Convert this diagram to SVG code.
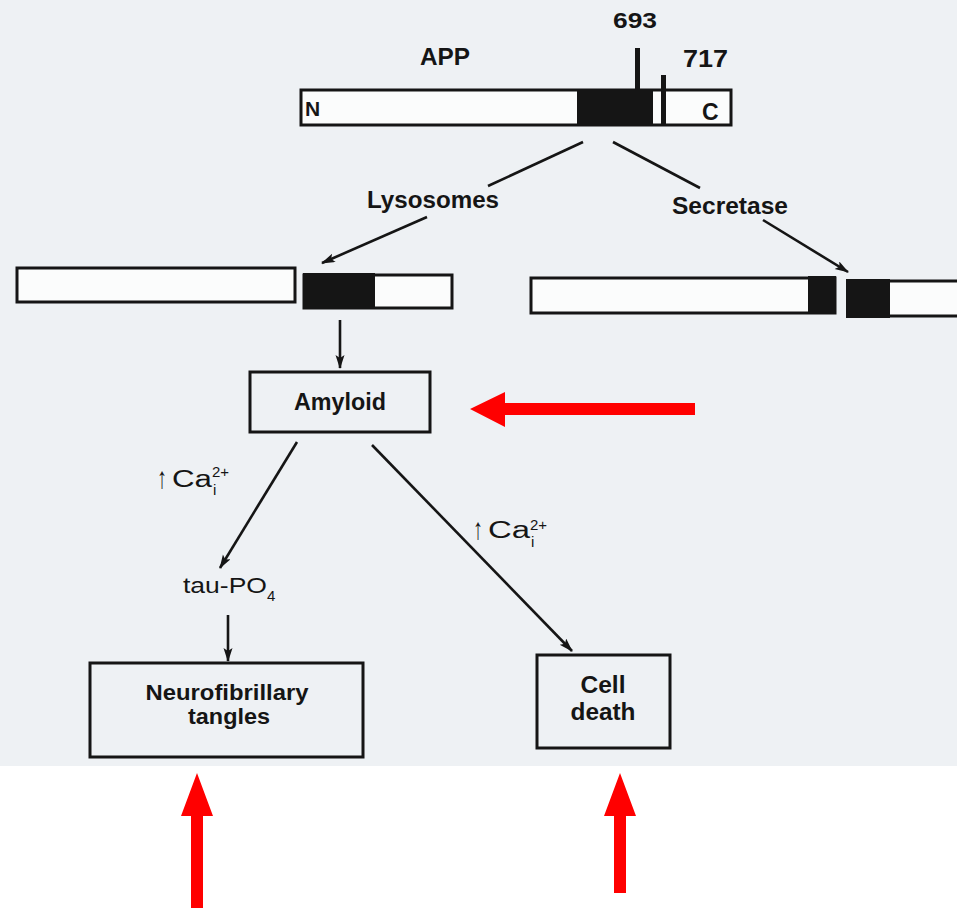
<svg xmlns="http://www.w3.org/2000/svg" width="957" height="908" viewBox="0 0 957 908">
<style>
.t{font-family:"Liberation Sans","Arial",sans-serif;fill:#151515}
.b{font-weight:bold}
.box{fill:none;stroke:#151515;stroke-width:3}
.bar{fill:#fbfcfc;stroke:#151515;stroke-width:3}
.blk{fill:#151515}
.ln{stroke:#151515;stroke-width:2.6;fill:none}
.red{fill:#ff0000}
</style>
<defs>
<marker id="ah" markerUnits="userSpaceOnUse" markerWidth="14" markerHeight="10" refX="13" refY="4.5" orient="auto">
<path d="M0,0 L14,4.5 L0,9 L3,4.5 z" fill="#151515"/>
</marker>
</defs>
<rect x="0" y="0" width="957" height="766" fill="#eef1f4"/>
<rect x="0" y="766" width="957" height="142" fill="#ffffff"/>

<g id="app">
<rect class="bar" x="301" y="90" width="430" height="35"/>
<rect class="blk" x="577" y="89" width="76" height="37"/>
<rect class="blk" x="635" y="48" width="5" height="45"/>
<rect class="blk" x="661" y="75" width="5" height="51"/>
<text class="t b" x="420" y="65" font-size="23" textLength="50" lengthAdjust="spacingAndGlyphs">APP</text>
<text class="t b" x="613" y="28" font-size="22" textLength="44" lengthAdjust="spacingAndGlyphs">693</text>
<text class="t b" x="683" y="67" font-size="23" textLength="45" lengthAdjust="spacingAndGlyphs">717</text>
<text class="t b" x="305" y="116" font-size="21">N</text>
<text class="t b" x="702" y="120" font-size="23">C</text>
</g>

<g id="lysosomes">
<text class="t b" x="367" y="208" font-size="23" textLength="132" lengthAdjust="spacingAndGlyphs">Lysosomes</text>
</g>
<g id="secretase">
<text class="t b" x="672" y="214" font-size="23" textLength="116" lengthAdjust="spacingAndGlyphs">Secretase</text>
</g>

<g id="fragment-left">
<rect class="bar" x="17" y="268" width="278" height="34"/>
<rect class="bar" x="304" y="275" width="148" height="33"/>
<rect class="blk" x="303" y="273" width="72" height="36"/>
</g>

<g id="fragment-right">
<rect class="bar" x="531" y="278" width="304" height="35"/>
<rect class="blk" x="808" y="276" width="28" height="38"/>
<rect class="bar" x="848" y="281" width="115" height="35"/>
<rect class="blk" x="846" y="279" width="44" height="39"/>
</g>

<g id="amyloid">
<rect class="box" x="250" y="372" width="180" height="60"/>
<text class="t b" x="340" y="410" font-size="23" text-anchor="middle" textLength="92" lengthAdjust="spacingAndGlyphs">Amyloid</text>
</g>

<g id="tau">
<text class="t" x="183" y="593" font-size="22"><tspan textLength="84" lengthAdjust="spacingAndGlyphs">tau-PO</tspan><tspan x="267" y="601" font-size="15">4</tspan></text>
</g>

<g id="tangles">
<rect class="box" x="90" y="663" width="273" height="94"/>
<text class="t b" font-size="22" text-anchor="middle"><tspan x="227" y="700" textLength="163" lengthAdjust="spacingAndGlyphs">Neurofibrillary</tspan><tspan x="229" y="724" textLength="82" lengthAdjust="spacingAndGlyphs">tangles</tspan></text>
</g>

<g id="celldeath">
<rect class="box" x="537" y="655" width="133" height="93"/>
<text class="t b" font-size="23" text-anchor="middle"><tspan x="603" y="693" textLength="45" lengthAdjust="spacingAndGlyphs">Cell</tspan><tspan x="603" y="720" textLength="65" lengthAdjust="spacingAndGlyphs">death</tspan></text>
</g>

<g id="ca-left">
<text class="t" x="157" y="488" font-size="23"><tspan font-size="30" textLength="10" lengthAdjust="spacingAndGlyphs">↑</tspan><tspan x="172" y="487" textLength="40" lengthAdjust="spacingAndGlyphs">Ca</tspan><tspan x="212" y="477" font-size="15">2+</tspan><tspan x="213" y="495" font-size="15">i</tspan></text>
</g>
<g id="ca-right">
<text class="t" x="473" y="539" font-size="23"><tspan font-size="30" textLength="10" lengthAdjust="spacingAndGlyphs">↑</tspan><tspan x="488" y="538" textLength="42" lengthAdjust="spacingAndGlyphs">Ca</tspan><tspan x="530" y="530" font-size="15">2+</tspan><tspan x="531" y="547" font-size="15">i</tspan></text>
</g>

<g id="connectors">
<line class="ln" x1="583" y1="142" x2="488" y2="186"/>
<line class="ln" x1="613" y1="142" x2="700" y2="188"/>
<line class="ln" x1="427" y1="217" x2="322" y2="263" marker-end="url(#ah)"/>
<line class="ln" x1="763" y1="220" x2="848" y2="272" marker-end="url(#ah)"/>
<line class="ln" x1="340" y1="320" x2="340" y2="368" marker-end="url(#ah)"/>
<line class="ln" x1="297" y1="442" x2="220" y2="568" marker-end="url(#ah)"/>
<line class="ln" x1="372" y1="445" x2="572" y2="651" marker-end="url(#ah)"/>
<line class="ln" x1="228" y1="615" x2="228" y2="661" marker-end="url(#ah)"/>
</g>

<g id="red-arrows">
<polygon class="red" points="470,409 505,392 505,403 695,403 695,415 505,415 505,427"/>
<polygon class="red" points="197,773 213,816 203,816 203,908 191,908 191,816 181,816"/>
<polygon class="red" points="620,773 636,816 626,816 626,893 614,893 614,816 604,816"/>
</g>
</svg>
